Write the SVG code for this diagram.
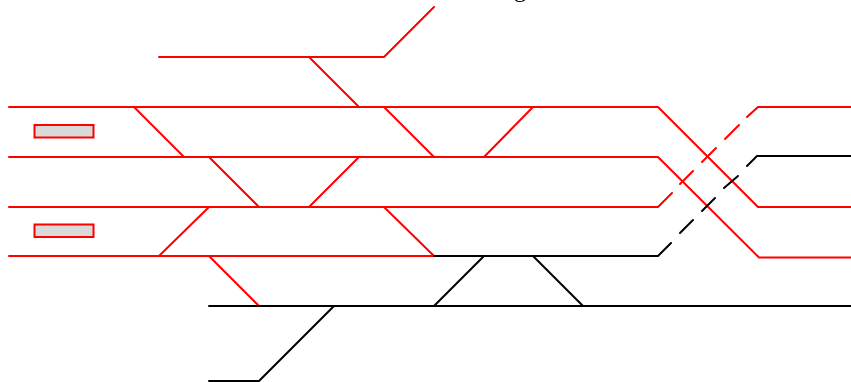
<svg xmlns="http://www.w3.org/2000/svg" width="851" height="382" viewBox="0 0 851 382">
<style>
.r{stroke:#f00}.k{stroke:#000}
path{fill:none;stroke-width:2;stroke-linecap:round;stroke-linejoin:round}
.d{stroke-dasharray:27 21;stroke-linecap:round}
.s{fill:#d9d9d9;stroke:#f00;stroke-width:2}
text{font-family:"Liberation Serif",serif;font-size:24px;fill:#000}
</style>
<rect width="851" height="382" fill="#fff"/>
<text x="514" y="-3">g</text>
<g id="connectors">
<path class="r" d="M159 57H384L434 7"/>
<path class="r" d="M309 57L359 107"/>
<path class="r" d="M9 107H658L758 207H851"/>
<path class="r" d="M9 157H658L759 257.500H851"/>
<path class="r" d="M9 207H658L672 193"/>
<path class="r" d="M9 256H434"/>
<path class="r" d="M134 107L184 157"/>
<path class="r" d="M209 157L259 207"/>
<path class="r" d="M359 157L309 207"/>
<path class="r" d="M384 107L434 157"/>
<path class="r" d="M533 107L484 157"/>
<path class="r" d="M209 207L159 256"/>
<path class="r" d="M384 207L434 256"/>
<path class="r" d="M209 256L259 306"/>
<path class="r" d="M680 184L693 171"/>
<path class="r" d="M702 162L716 148"/>
<path class="r" d="M725 139L739 125"/>
<path class="r" d="M747 117L758 107H851"/>
<path class="k" d="M434 256H658L671 243"/>
<path class="k" d="M680 233L693 220"/>
<path class="k" d="M702 211L715 198"/>
<path class="k" d="M724 188L738 176"/>
<path class="k" d="M747 166L757 156H851"/>
<path class="k" d="M209 306H851"/>
<path class="k" d="M209 381H259L334 306"/>
<path class="k" d="M484 256L434 306"/>
<path class="k" d="M533 256L583 306"/>
</g>
<g id="platform-1"><rect class="s" x="34.500" y="125" width="59" height="12.500"/></g>
<g id="platform-2"><rect class="s" x="34.500" y="224.500" width="59" height="12.500"/></g>
</svg>
